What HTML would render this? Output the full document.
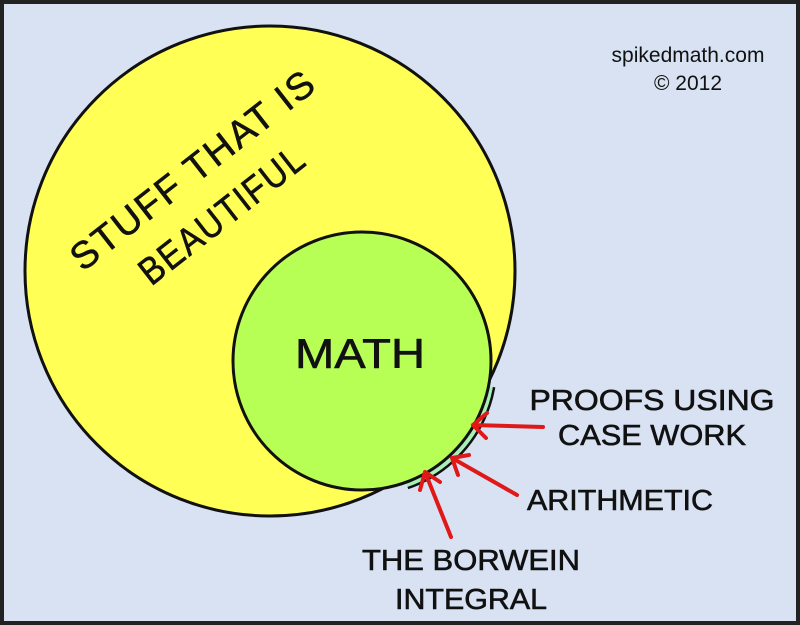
<!DOCTYPE html>
<html><head><meta charset="utf-8"><style>
html,body{margin:0;padding:0;background:#d8e2f3;}
svg{display:block}
text{font-family:"Liberation Sans",sans-serif;fill:#111;stroke:#111;stroke-width:0.6;}
</style></head><body>
<svg width="800" height="625" viewBox="0 0 800 625" xmlns="http://www.w3.org/2000/svg">
<defs><clipPath id="w"><polygon points="362,361 660,420 470,660"/></clipPath></defs>
<rect x="2" y="2" width="796" height="621" fill="#d8e2f3" stroke="#222" stroke-width="4"/>
<circle cx="270" cy="271" r="245" fill="#ffff55" stroke="#111" stroke-width="3"/>
<circle cx="366" cy="365" r="130" fill="#a8f0b8" stroke="#111" stroke-width="2.5" clip-path="url(#w)"/>
<circle cx="362" cy="361" r="129" fill="#b8ff55" stroke="#111" stroke-width="3"/>
<g transform="translate(201,180) rotate(-38)"><text x="0" y="0" text-anchor="middle" font-size="38" letter-spacing="2" textLength="300" lengthAdjust="spacingAndGlyphs">STUFF THAT IS</text></g>
<g transform="translate(230,225) rotate(-38)"><text x="0" y="0" text-anchor="middle" font-size="38" letter-spacing="2" textLength="200" lengthAdjust="spacingAndGlyphs">BEAUTIFUL</text></g>
<text x="360" y="368" text-anchor="middle" font-size="42" textLength="130" lengthAdjust="spacingAndGlyphs">MATH</text>
<text x="688" y="62" text-anchor="middle" font-size="21" style="stroke:none">spikedmath.com</text>
<text x="688" y="90" text-anchor="middle" font-size="21" style="stroke:none">© 2012</text>
<g font-size="29">
<text x="652" y="410" text-anchor="middle" textLength="245" lengthAdjust="spacingAndGlyphs">PROOFS USING</text>
<text x="652" y="445" text-anchor="middle" textLength="188" lengthAdjust="spacingAndGlyphs">CASE WORK</text>
<text x="620" y="510" text-anchor="middle" textLength="186" lengthAdjust="spacingAndGlyphs">ARITHMETIC</text>
<text x="471" y="570" text-anchor="middle" textLength="218" lengthAdjust="spacingAndGlyphs">THE BORWEIN</text>
<text x="471" y="609" text-anchor="middle" textLength="152" lengthAdjust="spacingAndGlyphs">INTEGRAL</text>
</g>
<g stroke="#e01818" stroke-width="4" fill="none" stroke-linecap="round" stroke-linejoin="round">
<path d="M543,427 L473,425 M487,413 L473,425 L486,438"/>
<path d="M517,495 L452,458 M469,455 L452,458 L458,475"/>
<path d="M451,537 L425,472 M420,490 L425,472 L440,482"/>
</g>
</svg>
</body></html>
